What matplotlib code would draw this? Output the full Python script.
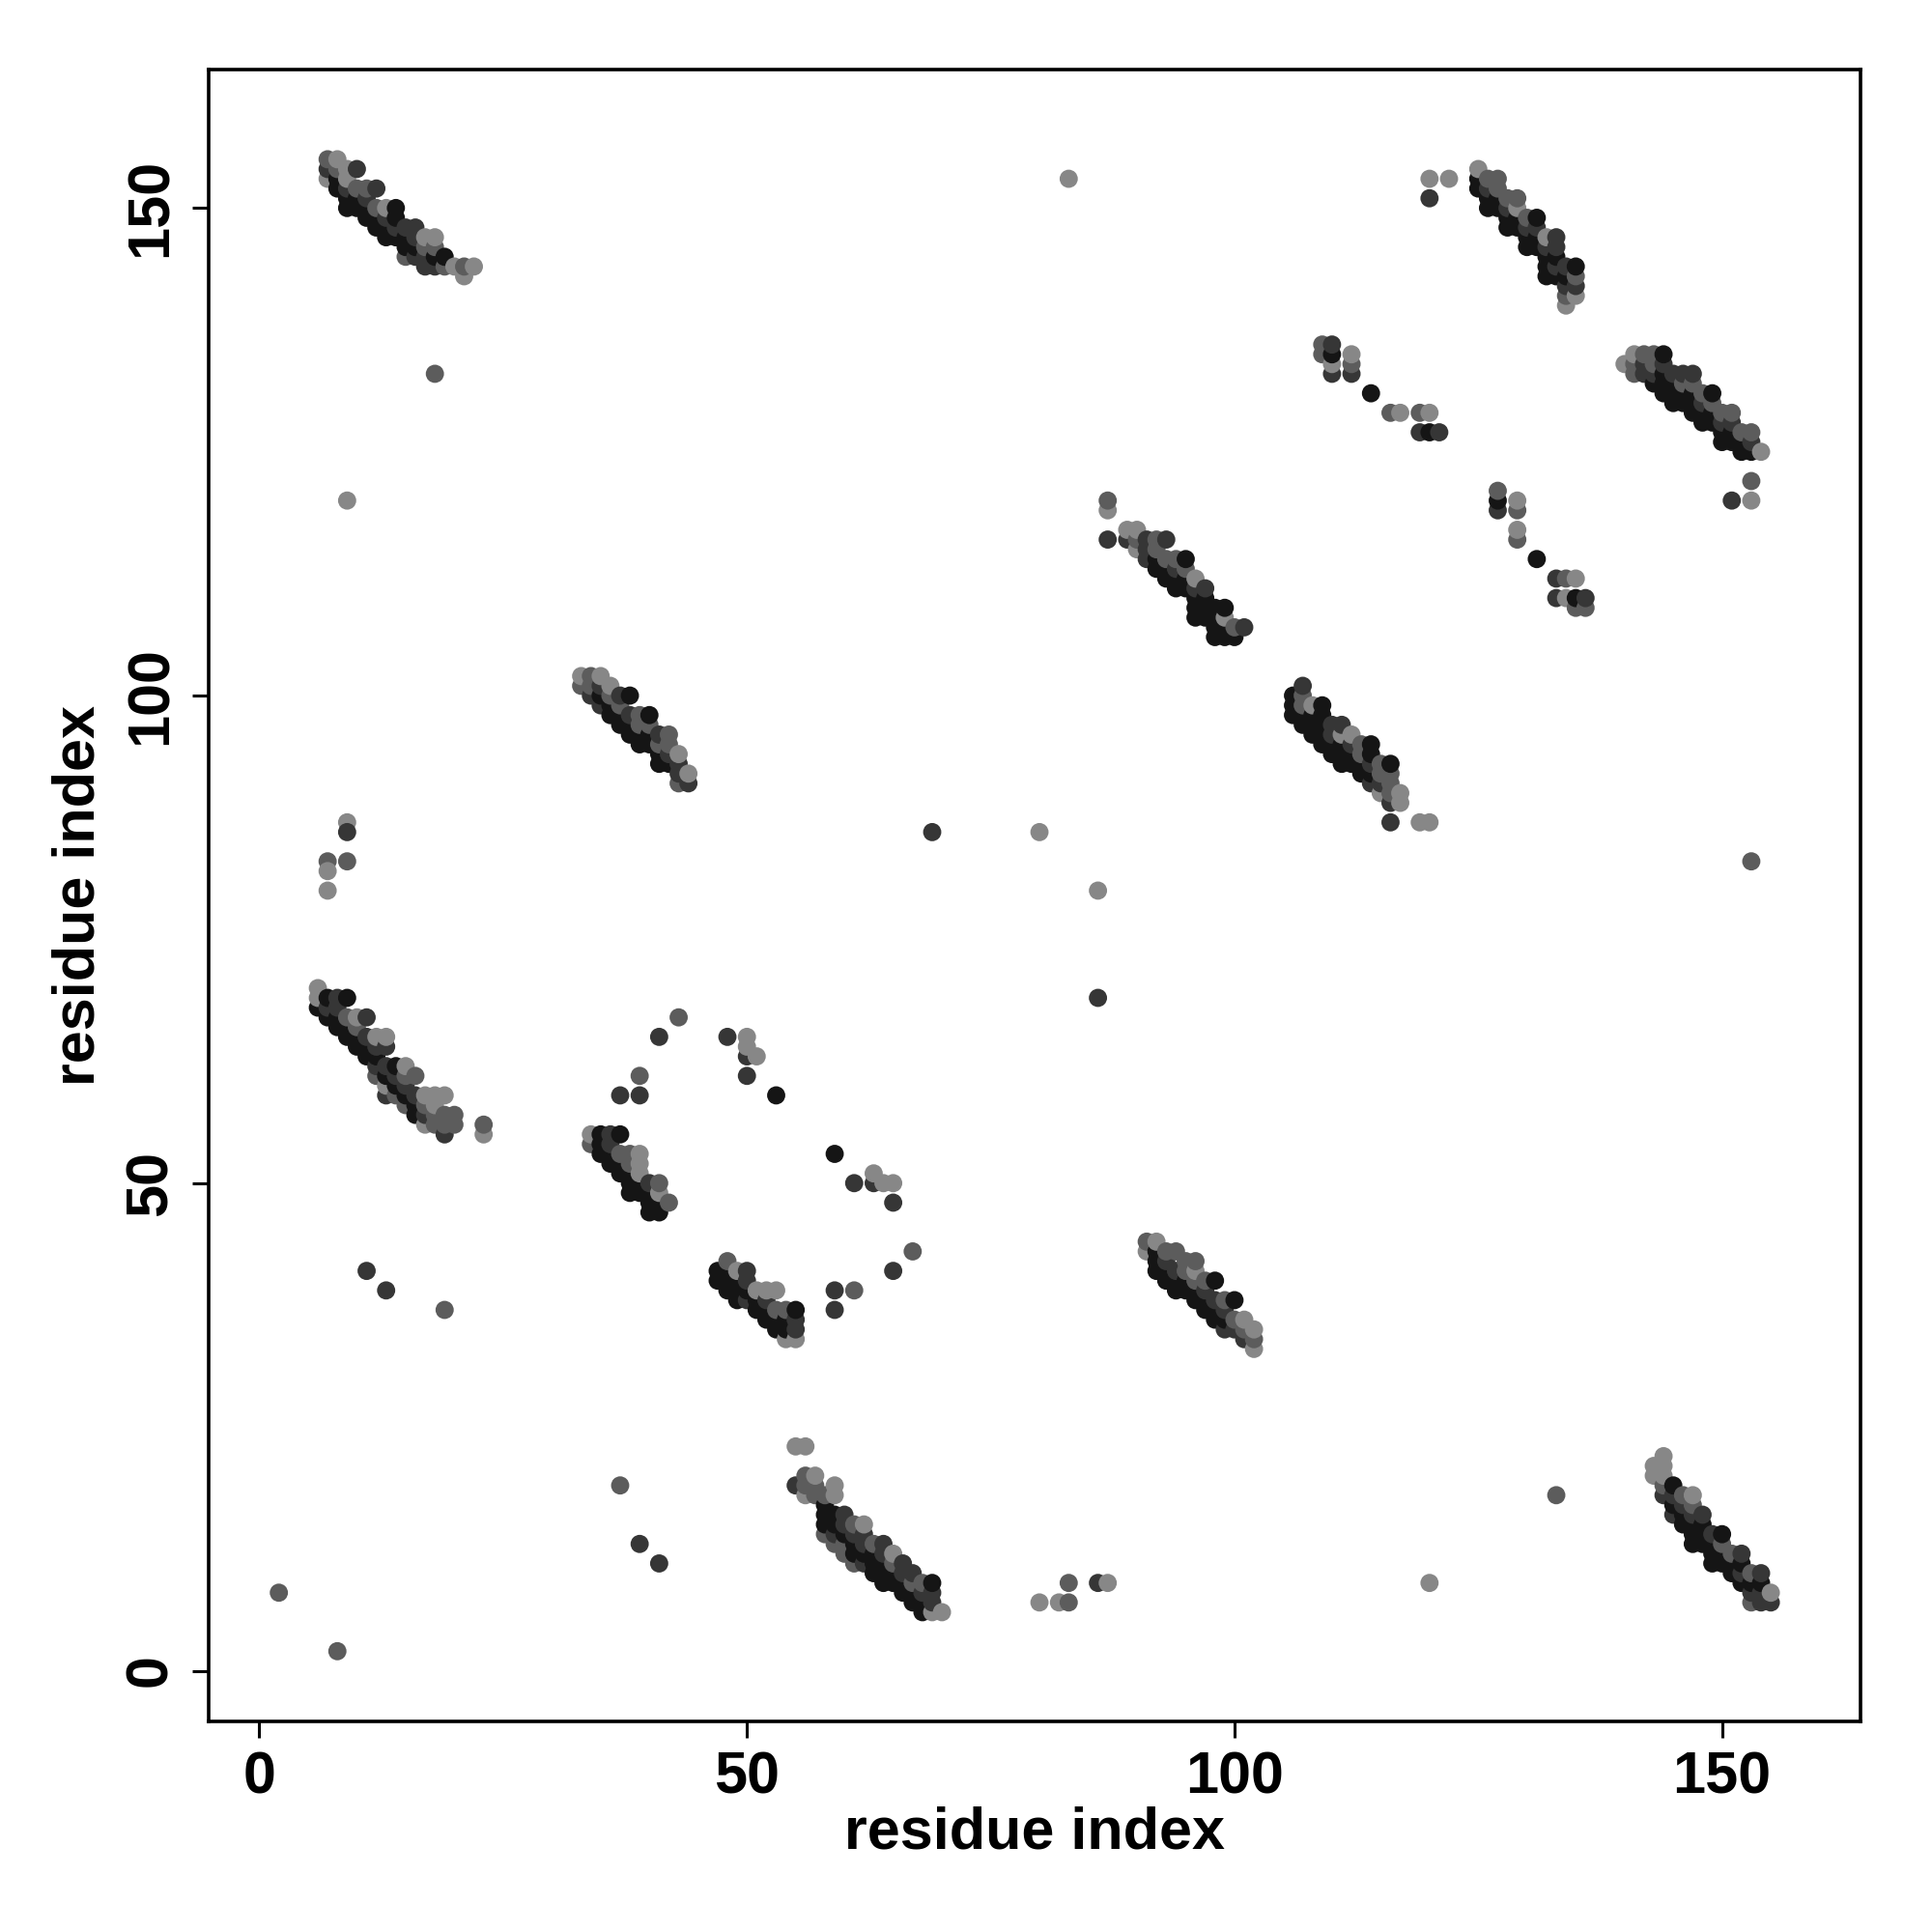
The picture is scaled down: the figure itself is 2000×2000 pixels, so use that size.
import matplotlib
matplotlib.use("Agg")
import matplotlib.pyplot as plt

# contact points: (residue i, residue j, shade code 0=black .. 3=light grey)
band1 = [(7,153,3),(7,154,1),(7,155,2),
         (8,152,0),(8,153,0),(8,154,2),(8,155,3),
         (9,150,0),(9,151,0),(9,152,1),(9,153,3),(9,154,3),
         (10,150,0),(10,151,0),(10,152,2),(10,154,1),
         (11,149,0),(11,150,0),(11,151,1),(11,152,2),
         (12,148,0),(12,149,0),(12,150,2),(12,152,1),
         (13,147,0),(13,148,0),(13,149,1),(13,150,3),
         (14,147,0),(14,148,1),(14,149,0),(14,150,0),
         (15,145,2),(15,146,0),(15,147,0),(15,148,1),
         (16,145,1),(16,146,0),(16,147,1),(16,148,1),
         (17,144,1),(17,145,1),(17,146,2),(17,147,3),
         (18,144,1),(18,145,0),(18,146,2),(18,147,3),
         (19,144,2),(19,145,0),(20,144,3),(21,143,3),(21,144,2),(22,144,3)]

band2 = [(33,101,2),(33,102,3),
         (34,100,1),(34,101,2),(34,102,2),
         (35,99,1),(35,100,0),(35,101,1),(35,102,3),
         (36,98,0),(36,99,0),(36,100,2),(36,101,3),
         (37,97,0),(37,98,0),(37,99,2),(37,100,1),
         (38,96,0),(38,97,0),(38,98,1),(38,100,0),
         (39,95,0),(39,96,0),(39,97,2),(39,98,2),
         (40,95,0),(40,96,0),(40,97,2),(40,98,0),
         (41,93,0),(41,94,0),(41,95,2),(41,96,1),
         (42,93,0),(42,94,1),(42,95,2),(42,96,2),
         (43,91,2),(43,92,1),(43,93,1),(43,94,3),
         (44,91,1),(44,92,3)]

band3 = [(6,68,0),(6,69,3),(6,70,3),
         (7,67,0),(7,68,1),(7,69,0),
         (8,66,0),(8,67,0),(8,68,1),(8,69,1),
         (9,65,0),(9,66,0),(9,67,2),(9,69,0),
         (10,64,0),(10,65,0),(10,66,2),(10,67,3),
         (11,63,0),(11,64,0),(11,65,1),(11,67,1),
         (12,61,2),(12,62,1),(12,63,0),(12,64,1),(12,65,3),
         (13,59,1),(13,60,3),(13,61,0),(13,62,1),(13,64,1),(13,65,3),
         (14,59,2),(14,60,0),(14,61,1),(14,62,0),
         (15,58,2),(15,59,0),(15,60,1),(15,61,2),(15,62,3),
         (16,57,0),(16,58,0),(16,59,1),(16,61,2),
         (17,56,3),(17,57,1),(17,58,2),(17,59,3),
         (18,56,2),(18,57,2),(18,58,3),(18,59,3),
         (19,55,1),(19,56,2),(19,57,2),(19,59,3),
         (20,56,2),(20,57,2),(23,55,3),(23,56,2)]

band4 = [(34,54,2),(34,55,3),
         (35,53,0),(35,54,0),(35,55,0),
         (36,52,0),(36,53,0),(36,54,1),(36,55,1),
         (37,51,0),(37,52,0),(37,53,2),(37,55,0),
         (38,49,0),(38,50,0),(38,51,0),(38,52,2),(38,53,2),
         (39,49,0),(39,50,0),(39,51,3),(39,52,3),(39,53,3),
         (40,47,0),(40,48,0),(40,49,0),(40,50,1),
         (41,47,0),(41,48,0),(41,49,3),(41,50,2),(42,48,2)]

band5 = [(47,40,0),(47,41,0),
         (48,39,0),(48,40,0),(48,41,0),(48,42,2),
         (49,38,0),(49,39,0),(49,40,0),(49,41,3),
         (50,38,1),(50,39,0),(50,40,1),(50,41,1),
         (51,37,0),(51,38,0),(51,39,3),
         (52,36,0),(52,37,0),(52,38,1),(52,39,3),
         (53,35,0),(53,36,0),(53,37,2),(53,39,3),
         (54,34,3),(54,35,0),(54,36,0),(54,37,2),
         (55,34,3),(55,35,1),(55,36,1),(55,37,0)]

band6 = [(55,19,1),(55,23,3),
         (56,18,3),(56,19,2),(56,20,2),(56,23,3),
         (57,18,2),(57,19,2),(57,20,3),
         (58,14,2),(58,15,0),(58,16,0),(58,17,0),(58,18,2),
         (59,13,2),(59,14,1),(59,15,0),(59,16,0),(59,18,3),(59,19,3),
         (60,12,2),(60,13,2),(60,14,0),(60,15,1),(60,16,1),
         (61,11,2),(61,12,0),(61,13,0),(61,14,1),(61,15,2),
         (62,11,1),(62,12,0),(62,13,1),(62,14,1),(62,15,3),
         (63,10,0),(63,11,0),(63,12,0),(63,13,2),
         (64,9,0),(64,10,0),(64,11,0),(64,12,1),(64,13,1),
         (65,9,0),(65,10,0),(65,11,2),(65,12,3),
         (66,8,0),(66,9,0),(66,10,1),(66,11,1),
         (67,7,0),(67,8,0),(67,9,2),(67,10,1),
         (68,6,0),(68,7,0),(68,8,1),(68,9,2),
         (69,6,3),(69,7,1),(69,8,1),(69,9,0),(70,6,3)]

band7 = [(87,116,1),(87,119,3),(87,120,2),
         (89,116,1),(89,117,3),
         (90,115,3),(90,116,2),(90,117,3),
         (91,114,1),(91,115,1),(91,116,1),
         (92,113,0),(92,114,0),(92,115,2),(92,116,2),
         (93,112,0),(93,113,0),(93,114,2),(93,116,1),
         (94,111,0),(94,112,0),(94,113,1),(94,114,2),
         (95,111,0),(95,112,0),(95,113,2),(95,114,0),
         (96,108,0),(96,109,0),(96,110,0),(96,111,1),(96,112,3),
         (97,108,0),(97,109,0),(97,110,0),(97,111,1),
         (98,106,0),(98,107,0),(98,108,0),(98,109,0),
         (99,106,0),(99,107,0),(99,108,3),(99,109,0),
         (100,106,0),(100,107,2),(101,107,1)]

band8 = [(91,43,3),(91,44,2),
         (92,41,0),(92,42,0),(92,43,0),(92,44,3),
         (93,40,0),(93,41,0),(93,42,1),(93,43,2),
         (94,39,0),(94,40,0),(94,41,1),(94,43,2),
         (95,39,0),(95,40,0),(95,41,2),(95,42,2),
         (96,38,0),(96,39,0),(96,40,2),(96,41,3),(96,42,2),
         (97,37,0),(97,38,0),(97,39,1),(97,40,2),
         (98,36,0),(98,37,0),(98,38,1),(98,40,0),
         (99,35,1),(99,36,0),(99,37,1),(99,38,2),
         (100,35,1),(100,36,2),(100,38,0),
         (101,34,1),(101,35,2),(101,36,3),
         (102,33,3),(102,34,2),(102,35,3)]

band9 = [(106,98,0),(106,99,0),(106,100,0),
         (107,97,0),(107,98,0),(107,99,2),(107,100,2),(107,101,1),
         (108,96,0),(108,97,0),(108,98,0),(108,99,3),
         (109,95,0),(109,96,0),(109,97,0),(109,98,0),(109,99,0),
         (110,94,0),(110,95,0),(110,96,1),(110,97,1),
         (111,93,0),(111,94,0),(111,95,0),(111,96,3),(111,97,1),
         (112,93,0),(112,94,0),(112,95,1),(112,96,3),
         (113,92,0),(113,93,0),(113,94,2),(113,95,2),
         (114,91,1),(114,92,0),(114,93,1),(114,94,0),(114,95,0),
         (115,90,3),(115,91,1),(115,92,2),(115,93,2),
         (116,89,1),(116,90,2),(116,91,2),(116,92,2),(116,93,0),(116,87,1),
         (117,89,3),(117,90,3),(119,87,3),(120,87,3)]

band10 = [(120,151,1),(120,153,3),(122,153,3),
          (125,152,0),(125,153,0),(125,154,3),
          (126,150,0),(126,151,0),(126,152,1),(126,153,2),
          (127,150,0),(127,151,0),(127,152,2),(127,153,2),
          (128,148,0),(128,149,0),(128,150,1),(128,151,2),
          (129,148,0),(129,149,0),(129,150,3),(129,151,2),
          (130,146,0),(130,147,0),(130,148,1),(130,149,2),
          (131,146,0),(131,147,0),(131,148,1),(131,149,0),
          (132,143,0),(132,144,0),(132,145,0),(132,146,1),(132,147,3),
          (133,143,0),(133,144,1),(133,145,0),(133,146,1),(133,147,1),
          (134,140,3),(134,141,2),(134,142,1),(134,143,0),(134,144,1),
          (135,141,3),(135,142,1),(135,143,2),(135,144,0)]

band11 = [(140,134,3),
          (141,133,2),(141,134,2),(141,135,3),
          (142,133,1),(142,134,1),(142,135,2),
          (143,132,0),(143,133,1),(143,134,2),(143,135,2),
          (144,131,0),(144,132,0),(144,133,0),(144,134,1),(144,135,0),
          (145,130,0),(145,131,0),(145,132,0),(145,133,1),
          (146,130,0),(146,131,0),(146,132,2),(146,133,1),
          (147,129,0),(147,130,0),(147,131,0),(147,132,2),(147,133,1),
          (148,128,0),(148,129,0),(148,130,1),(148,131,2),
          (149,128,0),(149,129,0),(149,130,2),(149,131,0),
          (150,126,0),(150,127,0),(150,128,1),(150,129,2),
          (151,126,0),(151,127,0),(151,128,1),(151,129,2),
          (152,125,0),(152,126,0),(152,127,2),
          (153,125,0),(153,126,1),(153,127,2),(154,125,3),
          (153,122,2),(151,120,1),(153,120,3)]

band12 = [(143,20,3),(143,21,3),
          (144,18,1),(144,19,2),(144,20,3),(144,21,3),(144,22,3),
          (145,16,1),(145,17,0),(145,18,1),(145,19,0),
          (146,15,0),(146,16,0),(146,17,1),(146,18,2),
          (147,13,0),(147,14,0),(147,15,0),(147,16,1),(147,17,2),(147,18,3),
          (148,13,0),(148,14,0),(148,15,0),(148,16,1),
          (149,11,0),(149,12,0),(149,13,0),(149,14,1),
          (150,11,0),(150,12,0),(150,13,2),(150,14,0),
          (151,10,0),(151,11,0),(151,12,2),
          (152,9,0),(152,10,1),(152,11,0),(152,12,1),
          (153,7,2),(153,8,1),(153,9,0),(153,10,2),
          (154,7,1),(154,8,1),(154,9,0),(154,10,1),
          (155,7,1),(155,8,3)]

# small groups between bands
pairs_mid = [(109,135,2),(109,136,2),(110,133,1),(110,134,3),(110,135,0),(110,136,1),
             (112,133,1),(112,134,2),(112,135,3),(114,131,0),(116,129,2),(117,129,3),
             (119,127,1),(119,129,2),(120,127,0),(120,129,3),(121,127,1),
             (127,119,1),(127,120,0),(127,121,2),(129,119,2),(129,120,3),
             (129,116,2),(129,117,3),(131,114,0),(133,110,1),(133,112,1),
             (134,110,3),(134,112,2),(135,109,2),(135,110,0),(135,112,3),
             (136,109,2),(136,110,1)]

loop = [(43,67,2),(41,65,1),(48,65,1),(50,65,3),(50,63,1),(50,64,3),(51,63,3),
        (50,61,1),(53,59,0),(39,61,2),(37,59,1),(39,59,1),(59,53,0),(61,50,1),
        (63,50,1),(63,51,3),(64,50,3),(65,50,3),(65,48,1),(67,43,2),(65,41,1),
        (59,39,1),(61,39,2),(59,37,1)]

singles = [(83,153,3),(18,133,2),(9,120,3),(7,83,2),(7,82,3),(7,80,3),(9,87,3),
           (9,86,1),(9,83,2),(69,86,1),(80,86,3),(86,80,3),(86,69,1),(153,83,2),
           (11,41,1),(13,39,1),(19,37,2),(2,8,2),(8,2,2),(37,19,2),(39,13,1),
           (41,11,1),(80,7,3),(82,7,3),(83,7,2),(83,9,2),(86,9,1),(87,9,3),
           (120,9,3),(133,18,2)]

shades = ['#151515', '#363636', '#5c5c5c', '#878787']

pts = (band1 + band2 + band3 + band4 + band5 + band6 + band7 + band8 +
       band9 + band10 + band11 + band12 + pairs_mid + loop + singles)
xs = [p[0] for p in pts]
ys = [p[1] for p in pts]
cs = [shades[p[2]] for p in pts]

plt.rcParams['font.family'] = ['Liberation Sans', 'DejaVu Sans']
plt.rcParams['font.weight'] = 'bold'

fig = plt.figure(figsize=(10, 10), dpi=200)
ax = fig.add_axes([0.108, 0.109, 0.855, 0.855])
ax.scatter(xs, ys, s=46, c=cs, linewidths=0)

ax.set_xlim(-5.2, 164.2)
ax.set_ylim(-5.2, 164.2)
ax.set_xticks([0, 50, 100, 150])
ax.set_yticks([0, 50, 100, 150])
ax.set_yticklabels(['0', '50', '100', '150'], rotation=90, va='center')
ax.tick_params(labelsize=22, length=6, width=1.1, pad=5)
for s in ax.spines.values():
    s.set_linewidth(1.3)

ax.set_xlabel('residue index', fontsize=22, fontweight='bold', labelpad=0)
ax.set_ylabel('residue index', fontsize=22, fontweight='bold', labelpad=6.5)

fig.savefig('out.png', dpi=200)
